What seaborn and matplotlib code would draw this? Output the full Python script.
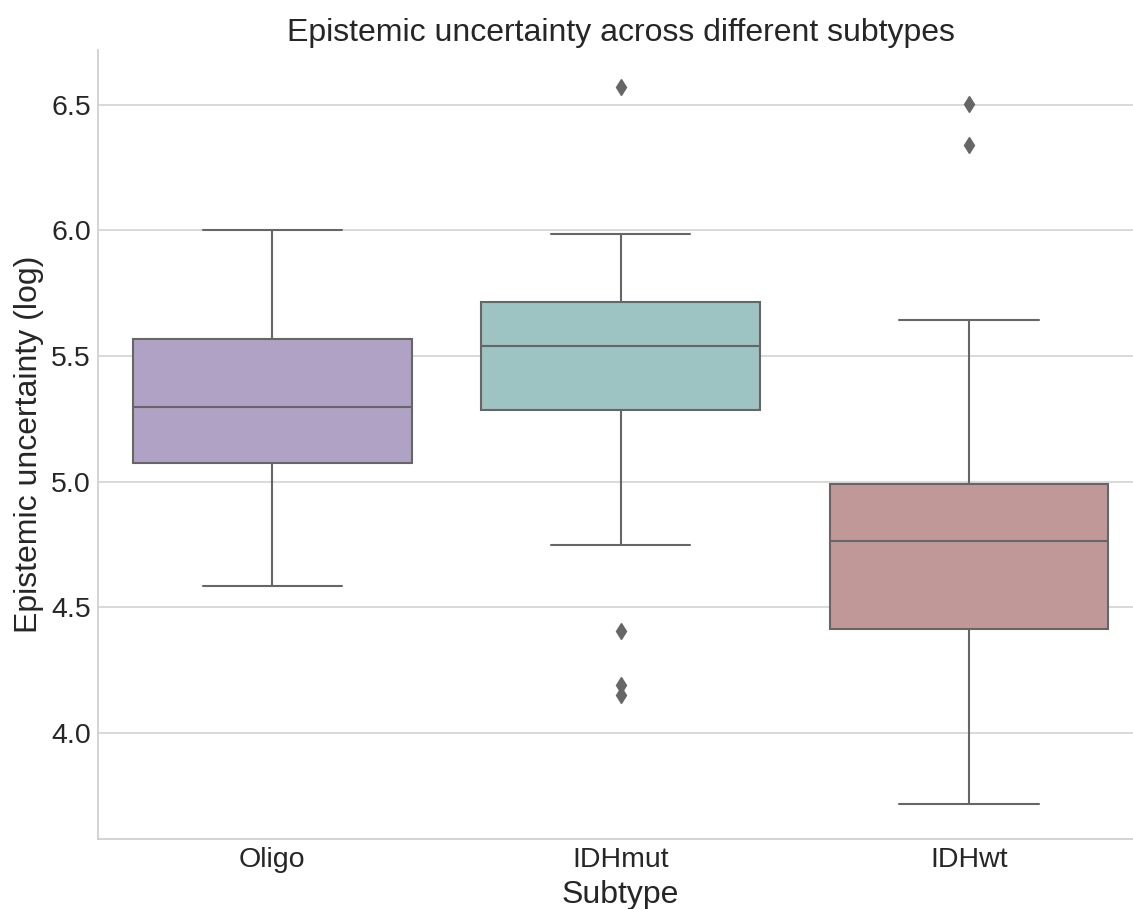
import numpy as np
import pandas as pd
import matplotlib
matplotlib.use("Agg")
import matplotlib.pyplot as plt
import seaborn as sns

# Data (whiskers, quartiles, median, outliers)
oligo_vals = [4.586, 5.076, 5.298, 5.567, 6.003]
idhmut_vals = [4.151, 4.190, 4.407, 4.748, 5.284, 5.36, 5.44, 5.50, 5.541,
               5.58, 5.63, 5.68, 5.714, 5.80, 5.90, 5.987, 6.572]
idhwt_vals = [3.719, 4.05, 4.30, 4.413, 4.55, 4.68, 4.765, 4.85, 4.93, 4.991,
              5.642, 6.341, 6.503]
subtypes = ["Oligo", "IDHmut", "IDHwt"]
palette_colors = ["#b0a2c4", "#9dc3c3", "#c09898"]

df = pd.DataFrame({
    "Subtype": (["Oligo"] * len(oligo_vals) + ["IDHmut"] * len(idhmut_vals)
                + ["IDHwt"] * len(idhwt_vals)),
    "Epistemic uncertainty (log)": oligo_vals + idhmut_vals + idhwt_vals,
})

sns.set_theme(style="whitegrid")
plt.rcParams["font.family"] = ["Liberation Sans", "DejaVu Sans"]

fig = plt.figure(figsize=(11.33, 9.09), dpi=100)
ax = fig.add_axes([98 / 1133, 1 - 839 / 909, (1143 - 98) / 1133, (839 - 50) / 909])

line_c = "#666666"
sns.boxplot(data=df, x="Subtype", y="Epistemic uncertainty (log)", order=subtypes,
            hue="Subtype", hue_order=subtypes, palette=palette_colors, legend=False,
            saturation=1, width=0.8, linecolor=line_c, linewidth=1.5,
            flierprops=dict(marker="d", markerfacecolor=line_c, markeredgecolor=line_c,
                            markersize=8),
            ax=ax)

ax.set_ylim(3.578, 6.718)
ax.set_xlim(-0.5, 2.5)
ax.set_yticks([4.0, 4.5, 5.0, 5.5, 6.0, 6.5])
ax.grid(axis="x", visible=False)
ax.grid(axis="y", color="#d0d0d0", linewidth=1.1)
sns.despine(ax=ax)
for s in ["left", "bottom"]:
    ax.spines[s].set_color("#cccccc")
    ax.spines[s].set_linewidth(1.2)

ax.tick_params(axis="both", labelsize=20.5, colors="#262626", length=0)
ax.tick_params(axis="x", pad=6)
ax.tick_params(axis="y", pad=5)
ax.set_title("Epistemic uncertainty across different subtypes", fontsize=23,
             color="#262626", pad=6.5)
ax.set_xlabel("Subtype", fontsize=23, color="#262626", labelpad=5)
ax.set_ylabel("Epistemic uncertainty (log)", fontsize=23, color="#262626", labelpad=5)

fig.savefig("out.png", dpi=100)
